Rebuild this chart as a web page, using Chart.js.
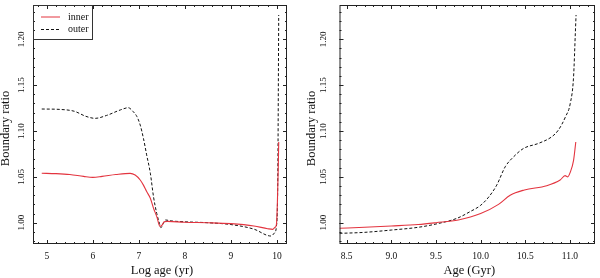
<!DOCTYPE html>
<html>
<head>
<meta charset="utf-8">
<script src="https://cdn.jsdelivr.net/npm/chart.js@4"></script>
<style>
  body { margin: 0; background: #fff; }
  .row { display: flex; width: 600px; height: 278px; }
  .cell { position: relative; width: 300px; height: 278px; }
</style>
</head>
<body>
<div class="row">
  <div class="cell"><canvas id="left-chart"></canvas></div>
  <div class="cell"><canvas id="right-chart"></canvas></div>
</div>
<script>
// left panel: log age (yr)
const logAgeInner = [4.89, 5.2, 5.5, 5.8, 6.0, 6.2, 6.5, 6.81, 6.92, 7.03, 7.10, 7.17, 7.25, 7.32, 7.39, 7.46, 7.5, 7.55, 7.62, 8.0, 8.5, 9.0, 9.5, 9.8, 9.91, 9.96, 9.99, 10.01, 10.03, 10.04];
const ratioInnerLog = [1.054, 1.0535, 1.0525, 1.0505, 1.0495, 1.0505, 1.0525, 1.0538, 1.052, 1.0466, 1.041, 1.034, 1.0266, 1.0157, 1.0066, 0.996, 0.997, 1.001, 1.0015, 1.0005, 1.000, 0.999, 0.9965, 0.9935, 0.9928, 0.995, 0.998, 1.02, 1.06, 1.088];
const logAgeOuter = [4.89, 5.3, 5.6, 5.85, 6.05, 6.3, 6.6, 6.77, 6.88, 6.96, 7.03, 7.10, 7.17, 7.25, 7.32, 7.39, 7.45, 7.48, 7.53, 7.58, 7.7, 8.0, 8.5, 9.0, 9.5, 9.87, 9.95, 9.99, 10.02, 10.04];
const ratioOuterLog = [1.124, 1.1235, 1.1215, 1.116, 1.1138, 1.117, 1.123, 1.1254, 1.121, 1.1156, 1.1065, 1.092, 1.074, 1.054, 1.028, 1.010, 0.999, 0.9946, 0.999, 1.003, 1.002, 1.001, 1.000, 0.998, 0.993, 0.9855, 0.989, 0.996, 1.05, 1.2265];

// right panel: age (Gyr)
const ageInner = [8.42, 8.7, 9.0, 9.3, 9.5, 9.75, 10.0, 10.2, 10.33, 10.49, 10.74, 10.89, 10.945, 10.975, 11.003, 11.04, 11.065];
const ratioInnerAge = [0.994, 0.995, 0.9964, 0.998, 1.000, 1.003, 1.010, 1.020, 1.030, 1.0357, 1.0404, 1.0466, 1.0513, 1.050, 1.055, 1.068, 1.088];
const ageOuter = [8.42, 8.7, 9.0, 9.3, 9.5, 9.74, 9.88, 10.0, 10.09, 10.18, 10.275, 10.37, 10.48, 10.65, 10.8, 10.87, 10.95, 11.003, 11.04, 11.06, 11.068];
const ratioOuterAge = [0.9884, 0.9895, 0.992, 0.995, 0.9986, 1.005, 1.012, 1.019, 1.028, 1.041, 1.061, 1.072, 1.081, 1.0866, 1.094, 1.101, 1.1156, 1.130, 1.159, 1.207, 1.2265];

// ticks
const logAgeTicks = [5, 6, 7, 8, 9, 10];
const ageTicks = [8.5, 9.0, 9.5, 10.0, 10.5, 11.0];
const ratioTicks = [1.00, 1.05, 1.10, 1.15, 1.20];
const seriesNames = ['inner', 'outer'];

const RED = '#e3343f';
const SERIF = '"Liberation Serif", "DejaVu Serif", serif';

const pts = (xs, ys) => xs.map((x, i) => ({ x, y: ys[i] }));

// inward ticks on all four sides, rotated y labels, axis titles, legend
const framePlugin = {
  id: 'frame',
  afterDraw(chart, args, o) {
    const { ctx, chartArea: a } = chart;
    const xs = chart.scales.x, ys = chart.scales.y;
    ctx.save();
    ctx.strokeStyle = '#222';
    ctx.lineWidth = 1;
    ctx.strokeRect(a.left + 0.5, a.top + 0.5, a.right - a.left - 1, a.bottom - a.top - 1);

    const tick = (x1, y1, x2, y2) => {
      ctx.beginPath(); ctx.moveTo(x1, y1); ctx.lineTo(x2, y2); ctx.stroke();
    };
    // x minor + major
    for (let v = Math.ceil(xs.min / o.xMinor) * o.xMinor; v <= xs.max; v += o.xMinor) {
      const px = Math.round(xs.getPixelForValue(v)) + 0.5;
      tick(px, a.bottom, px, a.bottom - 2);
      tick(px, a.top, px, a.top + 2);
    }
    o.xTicks.forEach(v => {
      const px = Math.round(xs.getPixelForValue(v)) + 0.5;
      tick(px, a.bottom, px, a.bottom - 4);
      tick(px, a.top, px, a.top + 4);
    });
    for (let v = Math.ceil(ys.min / 0.01) * 0.01; v <= ys.max; v += 0.01) {
      const py = Math.round(ys.getPixelForValue(v)) + 0.5;
      tick(a.left, py, a.left + 2, py);
      tick(a.right, py, a.right - 2, py);
    }
    ratioTicks.forEach(v => {
      const py = Math.round(ys.getPixelForValue(v)) + 0.5;
      tick(a.left, py, a.left + 4, py);
      tick(a.right, py, a.right - 4, py);
    });

    ctx.fillStyle = '#111';
    ctx.font = '9.5px ' + SERIF;
    ctx.textAlign = 'center';
    ctx.textBaseline = 'middle';
    o.xTicks.forEach(v => {
      ctx.fillText(v.toFixed(o.xDigits), xs.getPixelForValue(v), a.bottom + 12);
    });
    ctx.font = '9px ' + SERIF;
    ratioTicks.forEach(v => {
      ctx.save();
      ctx.translate(a.left - o.yLabelOff, ys.getPixelForValue(v));
      ctx.rotate(-Math.PI / 2);
      ctx.fillText(v.toFixed(2), 0, 0);
      ctx.restore();
    });

    ctx.font = '12.5px ' + SERIF;
    ctx.fillText(o.xTitle, (a.left + a.right) / 2 + 2, a.bottom + 27);
    ctx.save();
    ctx.translate(o.yTitleX, (a.top + a.bottom) / 2 + 4);
    ctx.rotate(-Math.PI / 2);
    ctx.fillText('Boundary ratio', 0, 0);
    ctx.restore();

    if (o.legend) {
      ctx.strokeStyle = '#333';
      ctx.strokeRect(a.left + 0.5, a.top + 0.5, 59, 34);
      chart.data.datasets.forEach((ds, i) => {
        const y = a.top + 12 + i * 12.5;
        ctx.strokeStyle = ds.borderColor;
        ctx.setLineDash(ds.borderDash || []);
        tick(a.left + 8, y, a.left + 27, y);
        ctx.setLineDash([]);
        ctx.textAlign = 'left';
        ctx.font = '10px ' + SERIF;
        ctx.fillText(ds.label, a.left + 35, y);
      });
    }
    ctx.restore();
  }
};

function makeChart(id, inner, outer, xr, frame, pad) {
  return new Chart(document.getElementById(id), {
    type: 'line',
    data: {
      datasets: [
        { label: seriesNames[0], data: inner, borderColor: RED, borderWidth: 1.1 },
        { label: seriesNames[1], data: outer, borderColor: '#111', borderWidth: 1, borderDash: [3, 2] }
      ]
    },
    options: {
      responsive: true, maintainAspectRatio: false, animation: false,
      layout: { padding: pad },
      elements: { point: { radius: 0 }, line: { cubicInterpolationMode: 'monotone' } },
      plugins: { legend: { display: false }, tooltip: { enabled: false }, frame },
      scales: {
        x: { type: 'linear', min: xr[0], max: xr[1], display: false },
        y: { type: 'linear', min: 0.9768, max: 1.2374, display: false }
      }
    },
    plugins: [framePlugin]
  });
}

makeChart('left-chart', pts(logAgeInner, ratioInnerLog), pts(logAgeOuter, ratioOuterLog), [4.70, 10.22],
  { xTicks: logAgeTicks, xMinor: 0.2, xDigits: 0, xTitle: 'Log age (yr)', yLabelOff: 11.5, yTitleX: 6, legend: true },
  { left: 33, right: 13, top: 5, bottom: 34 });

makeChart('right-chart', pts(ageInner, ratioInnerAge), pts(ageOuter, ratioOuterAge), [8.42, 11.28],
  { xTicks: ageTicks, xMinor: 0.1, xDigits: 1, xTitle: 'Age (Gyr)', yLabelOff: 15.5, yTitleX: 11.5, legend: false },
  { left: 39.5, right: 5, top: 5, bottom: 34 });
</script>
</body>
</html>
